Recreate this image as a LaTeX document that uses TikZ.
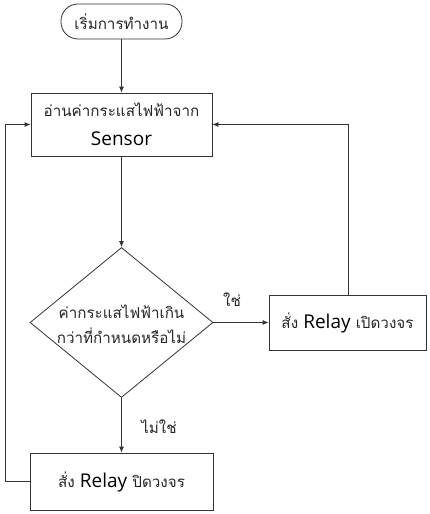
\documentclass[tikz,border=0pt]{standalone}
\usepackage{fontspec}
\newfontfamily\thaifont[Script=Thai]{Loma}
\newfontfamily\latfont{Open Sans}
\usetikzlibrary{arrows.meta,shapes.geometric}
\begin{document}
\begin{tikzpicture}[x=1pt,y=-1pt,
  every node/.style={font=\thaifont\fontsize{15.2}{18}\selectfont, text=black!85},
  line/.style={draw=black!80, line width=0.8pt},
  arr/.style={line, -{Latex[length=6pt,width=5pt]}},
  boxstyle/.style={draw=black!80, line width=0.8pt, rectangle, align=center, inner sep=0pt},
  lat/.style={font=\latfont\fontsize{19}{22}\selectfont, text=black}
]
\useasboundingbox (0,0) rectangle (430,514);
\node[boxstyle, rounded corners=17pt, minimum width=121pt, minimum height=35pt] (start) at (121.5,21.5) {เริ่มการทำงาน};
\node[boxstyle, minimum width=181pt, minimum height=63pt] (read) at (121.5,124.5) {\raisebox{3pt}{อ่านค่ากระแสไฟฟ้าจาก}\\[8pt]{\latfont\fontsize{19}{22}\selectfont\color{black} Sensor}};
\node[boxstyle, diamond, minimum width=183pt, minimum height=150pt, aspect=1.22] (dec) at (121.5,322.5) {};
\node[align=center] (dectext) at (121.5,324) {ค่ากระแสไฟฟ้าเกิน\\[7pt]กว่าที่กำหนดหรือไม่};
\node[boxstyle, minimum width=157pt, minimum height=55pt] (on) at (347.5,322.5) {สั่ง {\latfont\fontsize{19}{22}\selectfont\color{black}Relay} เปิดวงจร};
\node[boxstyle, minimum width=183pt, minimum height=57pt] (off) at (121.5,481.5) {สั่ง {\latfont\fontsize{19}{22}\selectfont\color{black}Relay} ปิดวงจร};
\node (yes) at (232,300) {ใช่};
\node (no) at (159,427) {ไม่ใช่};
\coordinate (onup) at (348,124.5);
\coordinate (lt) at (5,481.5);
\coordinate (lb) at (5,124.5);
\draw[arr] (start) -- (read);
\draw[arr] (read) -- (dec.north);
\draw[arr] (dec.east) -- (on.west);
\draw[arr] (dec.south) -- (off.north);
\draw[arr] (on.north -| onup) -- (onup) -- (read.east);
\draw[arr] (off.west) -- (lt) -- (lb) -- (read.west);
\end{tikzpicture}
\end{document}
